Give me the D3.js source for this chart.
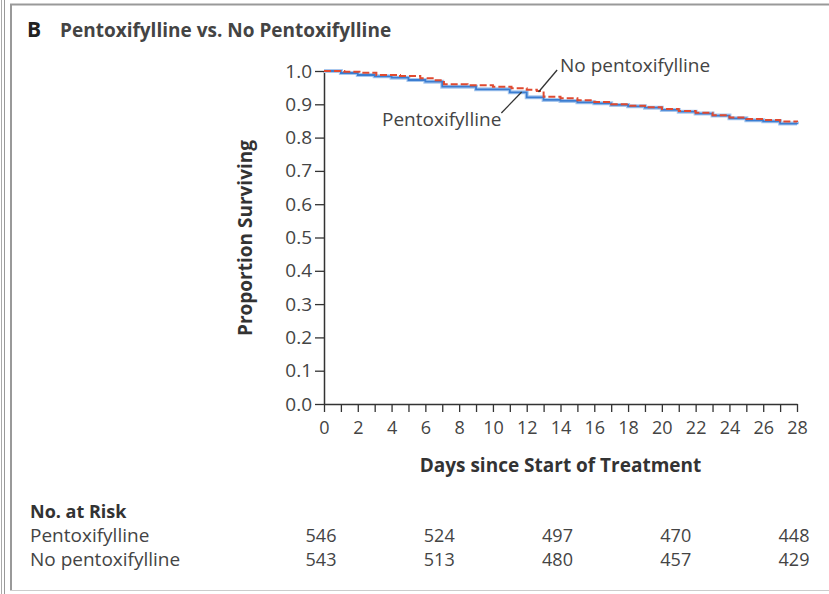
<!DOCTYPE html>
<html>
<head>
<meta charset="utf-8">
<script src="https://cdn.jsdelivr.net/npm/d3@7"></script>
<style>
  body { margin: 0; background: #fff; }
  svg text { font-family: "Open Sans", sans-serif; fill: #333; }
</style>
</head>
<body>
<div id="chart"></div>
<script>
// step curve for each group: [day, proportion surviving]
var pentoxDays = [0, 1, 2, 3, 4, 5, 6, 7, 9, 11, 12, 13, 14, 15, 16, 17, 18, 19, 20, 21, 22, 23, 24, 25, 26, 27, 28];
var pentoxSurv = [1.0, 0.994, 0.988, 0.984, 0.980, 0.973, 0.968, 0.953, 0.945, 0.936, 0.921, 0.913, 0.910, 0.906, 0.903, 0.898, 0.894, 0.890, 0.883, 0.878, 0.872, 0.866, 0.858, 0.852, 0.849, 0.842, 0.840];

var noPentoxDays = [0, 1.2, 2.1, 3.1, 4.5, 5.7, 6.5, 7.1, 8.5, 10, 11.1, 12, 12.6, 13, 14, 15, 16, 17, 18, 19, 20, 21, 22, 23, 24, 25, 26, 27, 28];
var noPentoxSurv = [1.0, 0.998, 0.995, 0.988, 0.985, 0.978, 0.972, 0.960, 0.957, 0.953, 0.948, 0.944, 0.940, 0.923, 0.918, 0.912, 0.907, 0.900, 0.896, 0.891, 0.886, 0.880, 0.875, 0.867, 0.860, 0.856, 0.853, 0.848, 0.847];

// number at risk table
var riskDays = [0, 7, 14, 21, 28];
var riskGroups = ["Pentoxifylline", "No pentoxifylline"];
var riskPentox = [546, 524, 497, 470, 448];
var riskNoPentox = [543, 513, 480, 457, 429];

var yTicks = [0, 0.1, 0.2, 0.3, 0.4, 0.5, 0.6, 0.7, 0.8, 0.9, 1.0];
var xTicks = d3.range(0, 29);

var width = 829, height = 594;

var svg = d3.select("#chart")
  .append("svg")
  .attr("width", width)
  .attr("height", height);

// panel frame
svg.append("line").attr("x1", 1.5).attr("x2", 1.5).attr("y1", 0).attr("y2", height)
  .style("stroke", "#aaa").style("stroke-width", 1);
svg.append("line").attr("x1", 4.5).attr("x2", 4.5).attr("y1", 0).attr("y2", height)
  .style("stroke", "#999").style("stroke-width", 1);
svg.append("line").attr("x1", 11).attr("x2", 11).attr("y1", 4).attr("y2", 591)
  .style("stroke", "#999").style("stroke-width", 2);
svg.append("line").attr("x1", 10).attr("x2", width).attr("y1", 4.5).attr("y2", 4.5)
  .style("stroke", "#999").style("stroke-width", 2);
svg.append("line").attr("x1", 10).attr("x2", width).attr("y1", 590.5).attr("y2", 590.5)
  .style("stroke", "#ccc").style("stroke-width", 1);

// title
svg.append("text").attr("x", 27).attr("y", 37)
  .style("font-size", "21px").style("font-weight", "bold").style("fill", "#222")
  .text("B");
svg.append("text").attr("x", 60).attr("y", 37)
  .style("font-size", "19px").style("font-weight", "bold").style("fill", "#444")
  .text("Pentoxifylline vs. No Pentoxifylline");

var x = d3.scaleLinear().domain([0, 28]).range([324, 797]);
var y = d3.scaleLinear().domain([0, 1]).range([404, 71]);

// axes
var yAxis = svg.append("g")
  .attr("transform", "translate(" + x(0) + ",0)")
  .call(d3.axisLeft(y).tickValues(yTicks).tickFormat(d3.format(".1f"))
    .tickSize(9).tickSizeOuter(0).tickPadding(3));

var xAxis = svg.append("g")
  .attr("transform", "translate(0," + y(0) + ")")
  .call(d3.axisBottom(x).tickValues(xTicks)
    .tickFormat(function (d) { return d % 2 === 0 ? d : ""; })
    .tickSize(8).tickSizeOuter(0).tickPadding(9));

[yAxis, xAxis].forEach(function (a) {
  a.select(".domain").style("stroke", "#333").style("stroke-width", 1.5);
  a.selectAll(".tick line").style("stroke", "#333").style("stroke-width", 1.3);
  a.selectAll(".tick text").style("fill", "#444")
    .style("font-family", "'Open Sans', sans-serif");
});
yAxis.selectAll(".tick text").style("font-size", "19px");
xAxis.selectAll(".tick text").style("font-size", "18px");

// axis titles
svg.append("text")
  .attr("transform", "translate(252,238) rotate(-90)")
  .attr("text-anchor", "middle")
  .style("font-size", "19px").style("font-weight", "bold").style("fill", "#333")
  .text("Proportion Surviving");

svg.append("text")
  .attr("x", (x(0) + x(28)) / 2).attr("y", 472)
  .attr("text-anchor", "middle")
  .style("font-size", "19px").style("font-weight", "bold").style("fill", "#333")
  .text("Days since Start of Treatment");

// survival curves
var line = d3.line()
  .x(function (d) { return x(d[0]); })
  .y(function (d) { return y(d[1]); })
  .curve(d3.curveStepAfter);

var pentox = d3.zip(pentoxDays, pentoxSurv);
var noPentox = d3.zip(noPentoxDays, noPentoxSurv);

svg.append("path").datum(pentox)
  .attr("d", line)
  .style("fill", "none").style("stroke", "#a9c8ee").style("stroke-width", 4);
svg.append("path").datum(pentox)
  .attr("d", line)
  .style("fill", "none").style("stroke", "#3b7dd1").style("stroke-width", 1.8);

svg.append("path").datum(noPentox)
  .attr("d", line)
  .style("fill", "none").style("stroke", "#e04a30").style("stroke-width", 2)
  .style("stroke-dasharray", "7,3");

// curve labels with leader lines
svg.append("line")
  .attr("x1", x(13.8)).attr("y1", 70).attr("x2", x(12.7)).attr("y2", 92)
  .style("stroke", "#333").style("stroke-width", 1.3);
svg.append("text").attr("x", 560).attr("y", 72)
  .style("font-size", "19px").style("fill", "#444")
  .text("No pentoxifylline");

svg.append("line")
  .attr("x1", x(10.5)).attr("y1", 113).attr("x2", x(11.7)).attr("y2", 92)
  .style("stroke", "#333").style("stroke-width", 1.3);
svg.append("text").attr("x", 382).attr("y", 126)
  .style("font-size", "19px").style("fill", "#444")
  .text("Pentoxifylline");

// number at risk
svg.append("text").attr("x", 30).attr("y", 518)
  .style("font-size", "18px").style("font-weight", "bold").style("fill", "#333")
  .text("No. at Risk");

var riskRows = [riskPentox, riskNoPentox];
var rowY = [542, 566];

riskRows.forEach(function (row, i) {
  svg.append("text").attr("x", 30).attr("y", rowY[i])
    .style("font-size", "19px").style("fill", "#444")
    .text(riskGroups[i]);
  svg.selectAll(".risk" + i)
    .data(row)
    .enter()
    .append("text")
    .attr("class", "risk" + i)
    .attr("x", function (d, j) { return x(riskDays[j]) - 3; })
    .attr("y", rowY[i])
    .attr("text-anchor", "middle")
    .style("font-size", "18px").style("fill", "#444")
    .text(function (d) { return d; });
});
</script>
</body>
</html>
